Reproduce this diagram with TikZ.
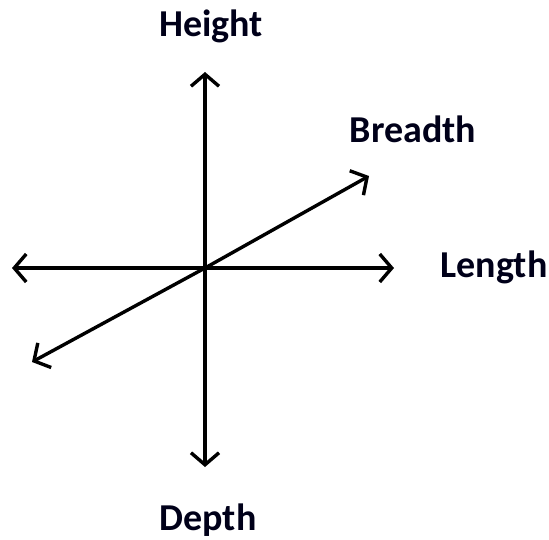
\documentclass[tikz,border=0pt]{standalone}
\usepackage{fontspec}
\setmainfont{Carlito}
\usepackage{tikz}
\usetikzlibrary{arrows.meta, positioning}

\tikzset{
  axisline/.style={line width=3.4pt, -{Straight Barb[length=12pt, width=28pt, line width=3.4pt]}},
  axislabel/.style={font=\fontsize{38}{42}\selectfont\bfseries, text=black!90!blue, inner sep=1pt}
}

\begin{document}
\begin{tikzpicture}[x=1pt,y=-1pt]
  \path[use as bounding box] (0,0) rectangle (549,539);
  \coordinate (origin) at (205,268);
  \coordinate (top) at (205,72);
  \coordinate (bottom) at (205,467);
  \coordinate (left) at (12,268);
  \coordinate (right) at (394,268);
  \coordinate (front) at (32,362);
  \coordinate (back) at (369,176);
  % axes
  \draw[axisline] (origin) -- (top);
  \draw[axisline] (origin) -- (bottom);
  \draw[axisline] (origin) -- (left);
  \draw[axisline] (origin) -- (right);
  \draw[axisline] (origin) -- (front);
  \draw[axisline] (origin) -- (back);
  % labels
  \node[axislabel] (height) at (211,26) {Height};
  \node[axislabel] (breadth) at (413,129) {Breadth};
  \node[axislabel] (length) at (494,267) {Length};
  \node[axislabel] (depth) at (208,520) {Depth};
\end{tikzpicture}
\end{document}
